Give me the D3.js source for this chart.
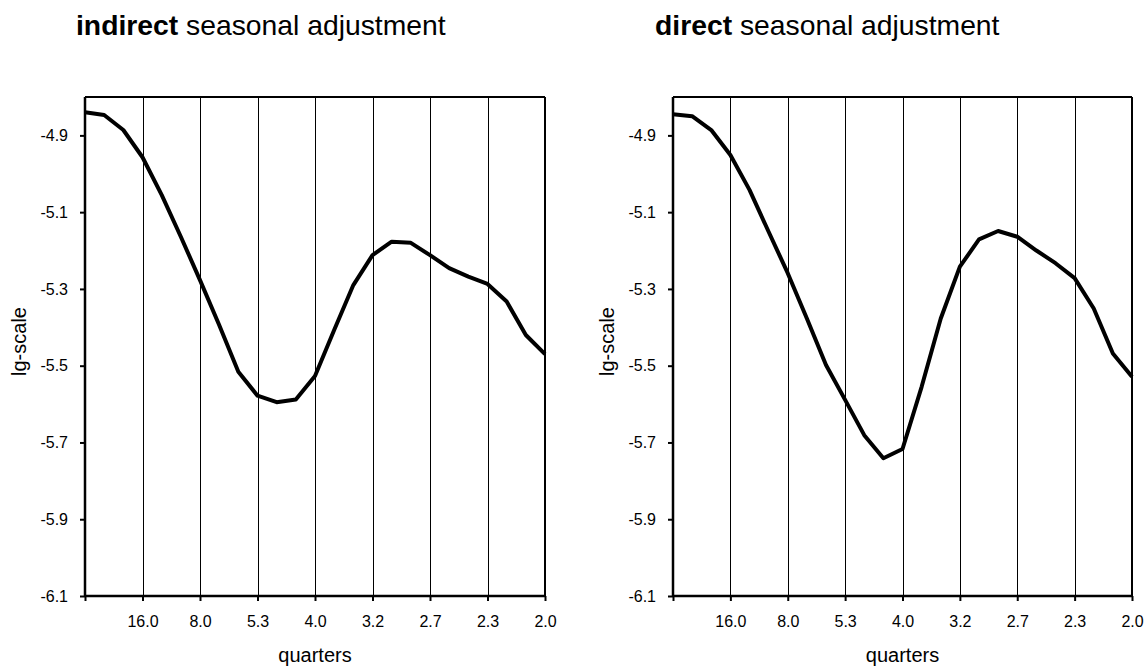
<!DOCTYPE html>
<html>
<head>
<meta charset="utf-8">
<script src="https://cdn.jsdelivr.net/npm/d3@7"></script>
<style>
  html, body { margin: 0; padding: 0; background: #fff; }
  svg { display: block; font-family: "Liberation Sans", Arial, sans-serif; }
</style>
</head>
<body>
<svg id="chart" width="1148" height="669"></svg>
<script>
// ---- data ----
const periodLabels = ["", "16.0", "8.0", "5.3", "4.0", "3.2", "2.7", "2.3", "2.0"];
const yTicks = [-6.1, -5.9, -5.7, -5.5, -5.3, -5.1, -4.9];
const indirectValues = [-4.840, -4.847, -4.886, -4.957, -5.055, -5.164, -5.277, -5.394, -5.516,
  -5.578, -5.595, -5.588, -5.527, -5.407, -5.290, -5.212, -5.177, -5.180, -5.212, -5.246,
  -5.268, -5.287, -5.333, -5.420, -5.470];
const directValues = [-4.845, -4.850, -4.886, -4.951, -5.042, -5.151, -5.259, -5.377, -5.498,
  -5.589, -5.681, -5.741, -5.717, -5.555, -5.377, -5.242, -5.171, -5.149, -5.164, -5.200,
  -5.233, -5.272, -5.351, -5.468, -5.529];
const titleBold = ["indirect", "direct"];
const titleRest = " seasonal adjustment";
const yLabel = "lg-scale";
const xLabel = "quarters";

// ---- layout ----
const panels = [
  { values: indirectValues, bold: titleBold[0], left: 85, right: 545, titleX: 76 },
  { values: directValues, bold: titleBold[1], left: 673, right: 1132, titleX: 655 }
];
const plotTop = 97, plotBottom = 596;
const svg = d3.select("#chart");
const nSteps = indirectValues.length - 1;
const stepsPerLabel = nSteps / (periodLabels.length - 1);

panels.forEach(p => {
  const x = d3.scaleLinear().domain([0, nSteps]).range([p.left, p.right]);
  const y = d3.scaleLinear().domain([-6.1, -4.8]).range([plotBottom, plotTop]);
  const g = svg.append("g");

  // title
  const t = g.append("text").attr("x", p.titleX).attr("y", 35)
    .attr("font-size", 28.3).attr("fill", "#000");
  t.append("tspan").attr("font-weight", "bold").text(p.bold);
  t.append("tspan").text(titleRest);

  // vertical gridlines
  const gridIdx = d3.range(1, periodLabels.length).map(i => i * stepsPerLabel);
  g.selectAll("line.grid").data(gridIdx).enter().append("line")
    .attr("class", "grid")
    .attr("x1", d => Math.round(x(d)) + 0.5).attr("x2", d => Math.round(x(d)) + 0.5)
    .attr("y1", plotTop).attr("y2", plotBottom)
    .attr("stroke", "#000").attr("stroke-width", 1);

  // frame top & right
  g.append("line").attr("x1", p.left).attr("x2", p.right).attr("y1", plotTop).attr("y2", plotTop)
    .attr("stroke", "#000").attr("stroke-width", 2);
  g.append("line").attr("x1", p.right).attr("x2", p.right).attr("y1", plotTop).attr("y2", plotBottom)
    .attr("stroke", "#000").attr("stroke-width", 2);

  // y axis
  const yAxis = d3.axisLeft(y).tickValues(yTicks).tickFormat(d => d.toFixed(1)).tickSize(5).tickPadding(12);
  const ya = g.append("g").attr("transform", `translate(${p.left},0)`).call(yAxis);
  ya.select(".domain").attr("stroke-width", 2.5).attr("d", `M0,${plotTop}V${plotBottom}`);
  ya.selectAll(".tick line").attr("stroke-width", 2);
  ya.selectAll(".tick text").attr("font-size", 16).attr("font-family", "Liberation Sans, Arial, sans-serif").attr("fill", "#000");

  // x axis
  const xAxis = d3.axisBottom(x)
    .tickValues(d3.range(0, periodLabels.length).map(i => i * stepsPerLabel))
    .tickFormat(d => periodLabels[Math.round(d / stepsPerLabel)])
    .tickSize(5).tickPadding(15);
  const xa = g.append("g").attr("transform", `translate(0,${plotBottom})`).call(xAxis);
  xa.select(".domain").attr("stroke-width", 2.5).attr("d", `M${p.left},0H${p.right}`);
  xa.selectAll(".tick line").attr("stroke-width", 2);
  xa.selectAll(".tick text").attr("font-size", 16).attr("font-family", "Liberation Sans, Arial, sans-serif").attr("fill", "#000");

  // axis titles
  g.append("text").attr("x", (p.left + p.right) / 2).attr("y", 662)
    .attr("text-anchor", "middle").attr("font-size", 20).text(xLabel);
  g.append("text")
    .attr("transform", `translate(${p.left - 59},${(plotTop + plotBottom) / 2 - 5}) rotate(-90)`)
    .attr("text-anchor", "middle").attr("font-size", 20).text(yLabel);

  // series line
  const line = d3.line().x((d, i) => x(i)).y(d => y(d));
  g.append("path").datum(p.values).attr("d", line)
    .attr("fill", "none").attr("stroke", "#000").attr("stroke-width", 4)
    .attr("stroke-linejoin", "round");
});
</script>
</body>
</html>
